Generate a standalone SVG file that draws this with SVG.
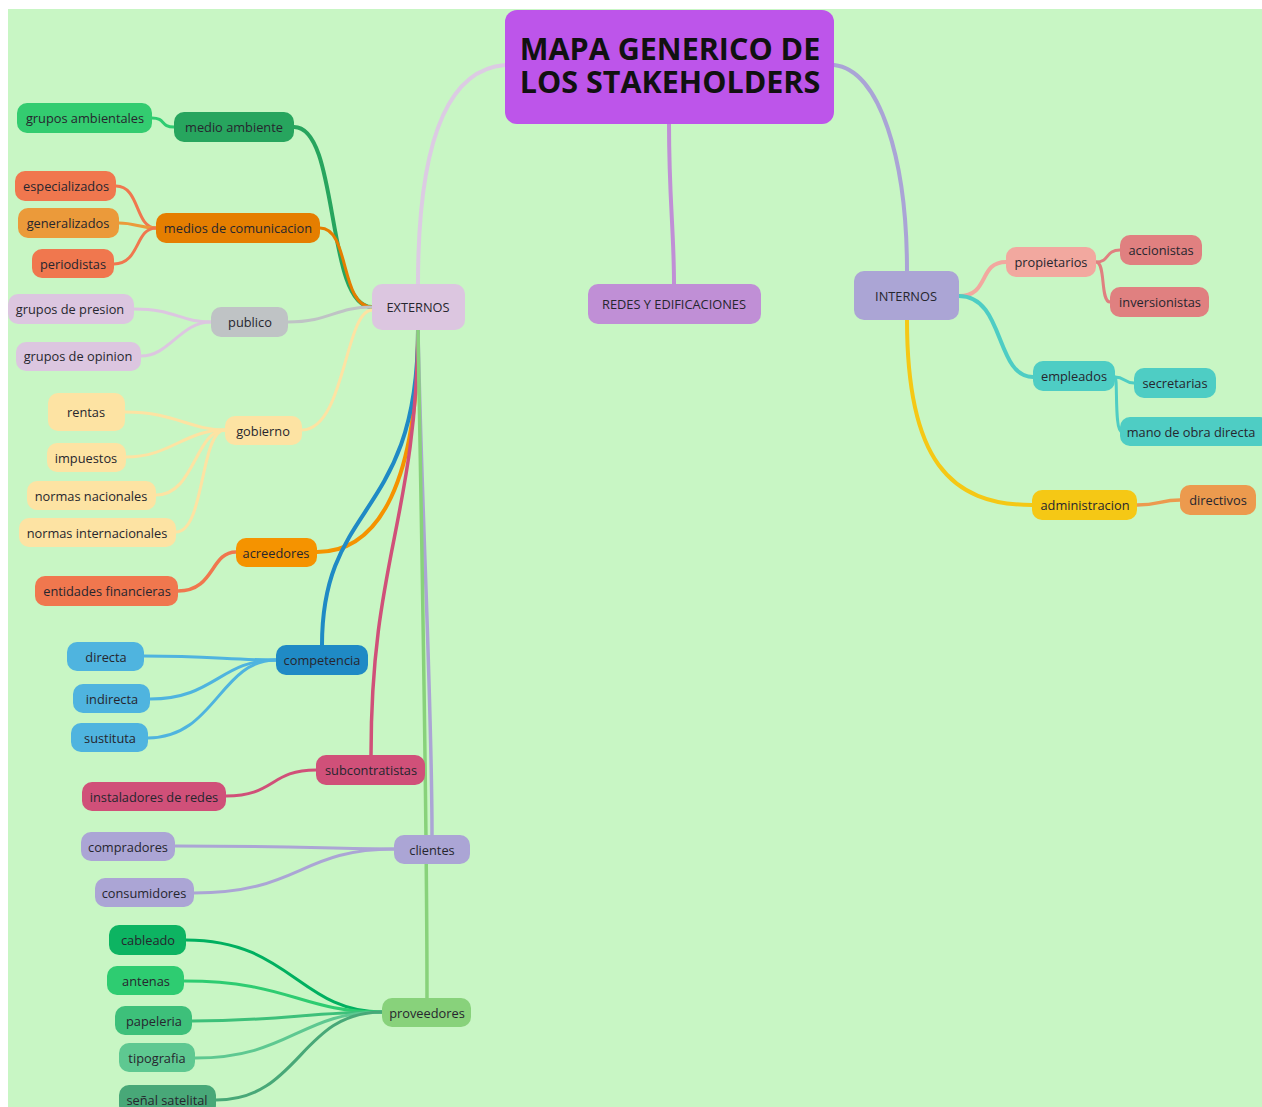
<svg xmlns="http://www.w3.org/2000/svg" width="1262" height="1107" viewBox="0 0 1262 1107">
<style>
text{font-family:"Open Sans","Noto Sans","Liberation Sans",sans-serif;font-size:12.8px;fill:#26262e;text-anchor:middle;dominant-baseline:central}
.t{font-size:30.5px;font-weight:bold;fill:#111;dominant-baseline:auto}
.c path{fill:none;stroke-linecap:round}
</style>
<rect x="0" y="0" width="1262" height="1107" fill="#ffffff"/>
<rect x="8" y="9" width="1254" height="1098" fill="#c8f6c4"/>
<g class="c" id="connectors">
<path d="M505,65 C440,70 418,160 418,284" stroke="#dccbe3" stroke-width="4"/>
<path d="M669,124 C669,200 674,230 674,284" stroke="#c08fd6" stroke-width="4"/>
<path d="M834,65 C880,70 907,160 907,271" stroke="#aaa4d6" stroke-width="4"/>
<path d="M294,127 C340,127 325,307 372,307" stroke="#27a55e" stroke-width="4"/>
<path d="M320,228 C350,228 340,307 372,307" stroke="#e57e00" stroke-width="3"/>
<path d="M288,322 C330,322 335,307 372,307" stroke="#bfc3c5" stroke-width="3"/>
<path d="M302,430 C345,430 345,310 372,310" stroke="#fde3a3" stroke-width="3"/>
<path d="M418,330 C418,480 380,552 317,552" stroke="#f59300" stroke-width="4"/>
<path d="M418,330 C418,520 322,500 322,645" stroke="#1f8ac5" stroke-width="4"/>
<path d="M418,330 C416,520 371,560 371,755" stroke="#d05079" stroke-width="3.5"/>
<path d="M418,330 C422,520 432,700 432,835" stroke="#aba5d5" stroke-width="3.5"/>
<path d="M418,330 C422,560 427,800 427,998" stroke="#88d27b" stroke-width="3.5"/>
<path d="M152,118 C166,118 160,127 174,127" stroke="#2ecc71" stroke-width="3"/>
<path d="M116,186 C140,186 135,228 156,228" stroke="#f0774e" stroke-width="3"/>
<path d="M119,223 C135,223 140,228 156,228" stroke="#eb9a3a" stroke-width="3"/>
<path d="M114,264 C140,264 135,228 156,228" stroke="#f0774e" stroke-width="3"/>
<path d="M134,309 C175,309 180,322 211,322" stroke="#dcc6e0" stroke-width="3"/>
<path d="M141,356 C170,356 180,322 211,322" stroke="#dcc6e0" stroke-width="3"/>
<path d="M125,412 C175,412 190,430 225,430" stroke="#fde3a3" stroke-width="3"/>
<path d="M126,457 C170,457 185,430 225,430" stroke="#fde3a3" stroke-width="3"/>
<path d="M156,495 C195,495 195,430 225,430" stroke="#fde3a3" stroke-width="3"/>
<path d="M176,532 C205,532 200,430 225,430" stroke="#fde3a3" stroke-width="3"/>
<path d="M178,591 C215,591 210,552 236,552" stroke="#f0774e" stroke-width="3.5"/>
<path d="M144,656 C210,656 230,660 276,660" stroke="#4fb4df" stroke-width="3"/>
<path d="M150,699 C215,699 220,660 276,660" stroke="#4fb4df" stroke-width="3"/>
<path d="M148,738 C215,738 220,660 276,660" stroke="#4fb4df" stroke-width="3"/>
<path d="M226,796 C275,796 270,770 316,770" stroke="#d05079" stroke-width="3"/>
<path d="M175,846 C300,846 330,849 394,849" stroke="#aba5d5" stroke-width="3"/>
<path d="M194,893 C300,893 300,849 394,849" stroke="#aba5d5" stroke-width="3"/>
<path d="M186,940 C290,940 300,1012 382,1012" stroke="#00b060" stroke-width="3"/>
<path d="M184,981 C290,981 300,1012 382,1012" stroke="#2ecc71" stroke-width="3"/>
<path d="M192,1021 C280,1021 310,1012 382,1012" stroke="#3dc07a" stroke-width="3"/>
<path d="M195,1058 C290,1058 300,1012 382,1012" stroke="#5ec891" stroke-width="3"/>
<path d="M216,1100 C300,1100 300,1012 382,1012" stroke="#48a878" stroke-width="3"/>
<path d="M959,296 C990,296 978,262 1006,262" stroke="#f2a89f" stroke-width="4"/>
<path d="M959,296 C1005,296 995,377 1033,377" stroke="#4ecdc4" stroke-width="4"/>
<path d="M907,320 C907,460 950,505 1032,505" stroke="#f5c815" stroke-width="4"/>
<path d="M1096,262 C1110,262 1105,250 1120,250" stroke="#e08080" stroke-width="3"/>
<path d="M1096,262 C1106,262 1100,302 1110,302" stroke="#e08080" stroke-width="3"/>
<path d="M1115,377 C1125,377 1124,383 1134,383" stroke="#4ecdc4" stroke-width="3"/>
<path d="M1115,377 C1118,377 1114,432 1122,432" stroke="#4ecdc4" stroke-width="3"/>
<path d="M1137,505 C1160,505 1160,500 1180,500" stroke="#ec9a4e" stroke-width="3.5"/>
</g>
<g id="title"><rect x="505" y="10" width="329" height="114" rx="12" fill="#bd55ea"/><text class="t" x="670" y="60">MAPA GENERICO DE<tspan x="670" y="93">LOS STAKEHOLDERS</tspan></text></g>
<g id="redes"><rect x="588" y="284" width="173" height="40" rx="10" fill="#c08fd6"/><text x="674" y="304">REDES Y EDIFICACIONES</text></g>
<g id="internos"><rect x="854" y="271" width="105" height="49" rx="10" fill="#aba5d5"/><text x="906" y="296">INTERNOS</text></g>
<g id="externos"><rect x="372" y="284" width="93" height="46" rx="10" fill="#dcc6e0"/><text x="418" y="307">EXTERNOS</text></g>
<g id="grupos-ambientales"><rect x="17" y="103" width="135" height="30" rx="10" fill="#33cc70"/><text x="85" y="118">grupos ambientales</text></g>
<g id="medio-ambiente"><rect x="174" y="112" width="120" height="30" rx="10" fill="#27a55e"/><text x="234" y="127">medio ambiente</text></g>
<g id="especializados"><rect x="15" y="171" width="101" height="30" rx="10" fill="#f0774e"/><text x="66" y="186">especializados</text></g>
<g id="generalizados"><rect x="18" y="208" width="101" height="30" rx="10" fill="#eb9a3a"/><text x="68" y="223">generalizados</text></g>
<g id="periodistas"><rect x="32" y="249" width="82" height="29" rx="10" fill="#f0774e"/><text x="73" y="264">periodistas</text></g>
<g id="medios"><rect x="156" y="213" width="164" height="30" rx="10" fill="#e57e00"/><text x="238" y="228">medios de comunicacion</text></g>
<g id="grupos-presion"><rect x="8" y="294" width="126" height="30" rx="10" fill="#dcc6e0"/><text x="70" y="309">grupos de presion</text></g>
<g id="grupos-opinion"><rect x="16" y="342" width="125" height="29" rx="10" fill="#dcc6e0"/><text x="78" y="356">grupos de opinion</text></g>
<g id="publico"><rect x="211" y="307" width="77" height="30" rx="10" fill="#bfc3c5"/><text x="250" y="322">publico</text></g>
<g id="rentas"><rect x="48" y="393" width="77" height="38" rx="10" fill="#fde3a3"/><text x="86" y="412">rentas</text></g>
<g id="impuestos"><rect x="47" y="443" width="79" height="29" rx="10" fill="#fde3a3"/><text x="86" y="458">impuestos</text></g>
<g id="normas-nacionales"><rect x="27" y="481" width="129" height="29" rx="10" fill="#fde3a3"/><text x="91" y="496">normas nacionales</text></g>
<g id="normas-internacionales"><rect x="19" y="518" width="157" height="29" rx="10" fill="#fde3a3"/><text x="97" y="533">normas internacionales</text></g>
<g id="gobierno"><rect x="225" y="416" width="77" height="29" rx="10" fill="#fde3a3"/><text x="263" y="431">gobierno</text></g>
<g id="acreedores"><rect x="236" y="538" width="81" height="29" rx="10" fill="#f59300"/><text x="276" y="553">acreedores</text></g>
<g id="entidades"><rect x="35" y="576" width="143" height="30" rx="10" fill="#f0774e"/><text x="107" y="591">entidades financieras</text></g>
<g id="directa"><rect x="67" y="642" width="77" height="29" rx="10" fill="#4fb4df"/><text x="106" y="657">directa</text></g>
<g id="indirecta"><rect x="73" y="684" width="77" height="29" rx="10" fill="#4fb4df"/><text x="112" y="699">indirecta</text></g>
<g id="sustituta"><rect x="71" y="723" width="77" height="29" rx="10" fill="#4fb4df"/><text x="110" y="738">sustituta</text></g>
<g id="competencia"><rect x="276" y="645" width="92" height="30" rx="10" fill="#1f8ac5"/><text x="322" y="660">competencia</text></g>
<g id="subcontratistas"><rect x="316" y="755" width="109" height="30" rx="10" fill="#d05079"/><text x="371" y="770">subcontratistas</text></g>
<g id="instaladores"><rect x="82" y="782" width="144" height="29" rx="10" fill="#d05079"/><text x="154" y="797">instaladores de redes</text></g>
<g id="compradores"><rect x="81" y="832" width="94" height="29" rx="10" fill="#aba5d5"/><text x="128" y="847">compradores</text></g>
<g id="consumidores"><rect x="95" y="878" width="99" height="29" rx="10" fill="#aba5d5"/><text x="144" y="893">consumidores</text></g>
<g id="clientes"><rect x="394" y="835" width="76" height="29" rx="10" fill="#aba5d5"/><text x="432" y="850">clientes</text></g>
<g id="cableado"><rect x="109" y="925" width="77" height="30" rx="10" fill="#0db462"/><text x="148" y="940">cableado</text></g>
<g id="antenas"><rect x="107" y="966" width="77" height="29" rx="10" fill="#2ecc71"/><text x="146" y="981">antenas</text></g>
<g id="papeleria"><rect x="115" y="1006" width="77" height="29" rx="10" fill="#3dc07a"/><text x="154" y="1021">papeleria</text></g>
<g id="tipografia"><rect x="119" y="1043" width="76" height="29" rx="10" fill="#5ec891"/><text x="157" y="1058">tipografia</text></g>
<g id="senal"><rect x="119" y="1085" width="97" height="30" rx="10" fill="#48a878"/><text x="167" y="1100">señal satelital</text></g>
<g id="proveedores"><rect x="382" y="998" width="89" height="29" rx="10" fill="#88d27b"/><text x="427" y="1013">proveedores</text></g>
<g id="propietarios"><rect x="1006" y="247" width="90" height="30" rx="10" fill="#f2a89f"/><text x="1051" y="262">propietarios</text></g>
<g id="accionistas"><rect x="1120" y="235" width="82" height="30" rx="10" fill="#e08080"/><text x="1161" y="250">accionistas</text></g>
<g id="inversionistas"><rect x="1110" y="287" width="99" height="30" rx="10" fill="#e08080"/><text x="1160" y="302">inversionistas</text></g>
<g id="empleados"><rect x="1033" y="361" width="82" height="30" rx="10" fill="#4ecdc4"/><text x="1074" y="376">empleados</text></g>
<g id="secretarias"><rect x="1134" y="368" width="82" height="30" rx="10" fill="#4ecdc4"/><text x="1175" y="383">secretarias</text></g>
<g id="mano-obra"><rect x="1120" y="417" width="150" height="29" rx="10" fill="#4ecdc4"/><text x="1191" y="432">mano de obra directa</text></g>
<g id="administracion"><rect x="1032" y="490" width="105" height="30" rx="10" fill="#f5c815"/><text x="1085" y="505">administracion</text></g>
<g id="directivos"><rect x="1180" y="485" width="76" height="30" rx="10" fill="#ec9a4e"/><text x="1218" y="500">directivos</text></g>
</svg>
